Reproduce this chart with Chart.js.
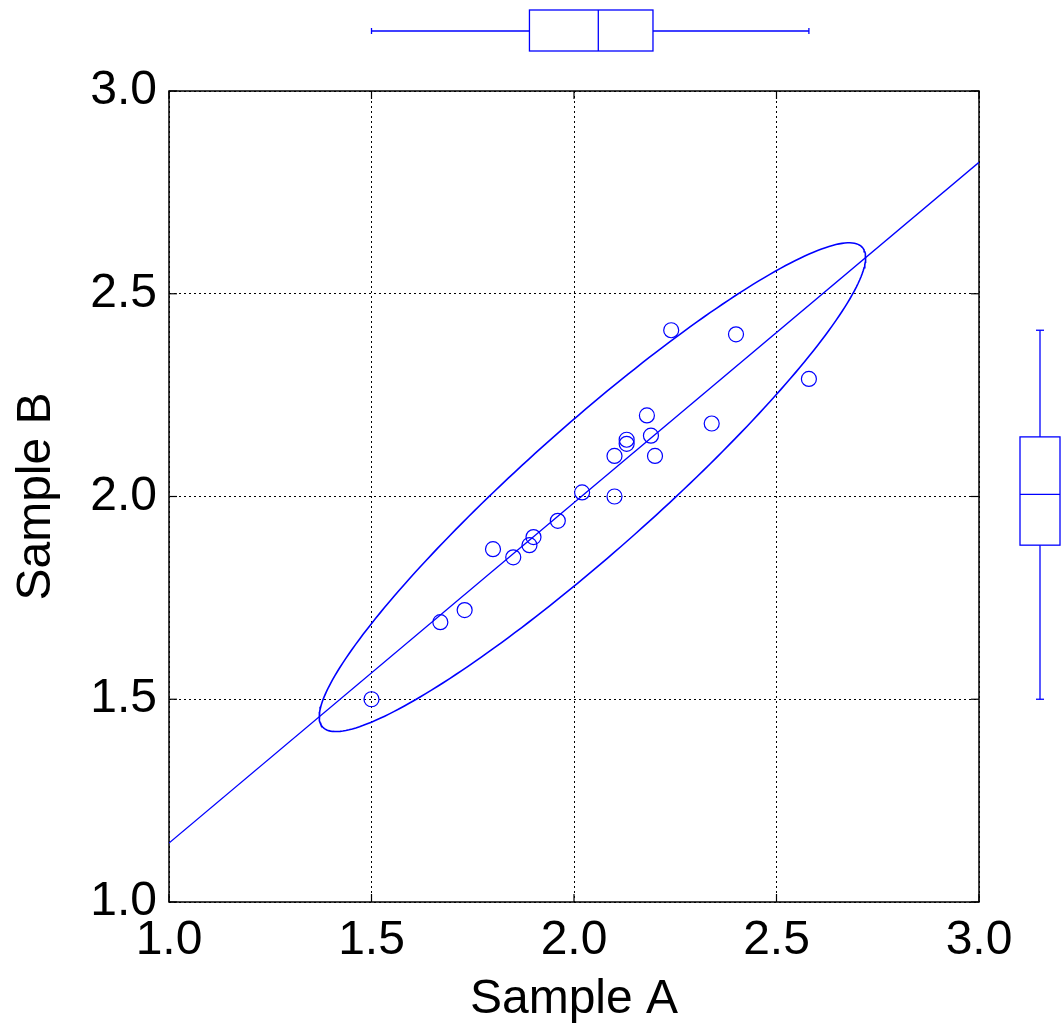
<!DOCTYPE html>
<html>
<head>
<meta charset="utf-8">
<script src="https://cdn.jsdelivr.net/npm/chart.js@4"></script>
<style>
  html, body { margin: 0; padding: 0; background: #fff; }
  #wrap { width: 1061px; height: 1029px; }
</style>
</head>
<body>
<div id="wrap"><canvas id="myChart" width="1061" height="1029"></canvas></div>
<script>
var sampleA = [2.24, 2.40, 2.58, 2.18, 2.34, 2.13, 2.13, 2.19, 2.10, 2.20,
               2.02, 2.10, 1.96, 1.90, 1.89, 1.80, 1.85, 1.73, 1.67, 1.50];
var sampleB = [2.41, 2.40, 2.29, 2.20, 2.18, 2.14, 2.13, 2.15, 2.10, 2.10,
               2.01, 2.00, 1.94, 1.90, 1.88, 1.87, 1.85, 1.72, 1.69, 1.50];

var tickValues = [1.0, 1.5, 2.0, 2.5, 3.0];

// box plot summaries: [min, q1, median, q3, max]
var boxA = [1.50, 1.89, 2.06, 2.195, 2.58];
var boxB = [1.50, 1.88, 2.005, 2.147, 2.41];

// size of the ellipse in standard deviations
var ellipseK = 2.57;

var blue = '#0000ff';
var fontName = '"Liberation Sans", Arial, Helvetica, sans-serif';

// stats
var n = sampleA.length;
var mx = 0, my = 0;
for (var i = 0; i < n; i++) { mx += sampleA[i]; my += sampleB[i]; }
mx /= n; my /= n;
var vx = 0, vy = 0, cxy = 0;
for (var i = 0; i < n; i++) {
    vx += (sampleA[i] - mx) * (sampleA[i] - mx);
    vy += (sampleB[i] - my) * (sampleB[i] - my);
    cxy += (sampleA[i] - mx) * (sampleB[i] - my);
}
vx /= (n - 1); vy /= (n - 1); cxy /= (n - 1);
var slope = cxy / vx;
var intercept = my - slope * mx;

var points = sampleA.map(function(a, i) { return {x: a, y: sampleB[i]}; });
var fitLine = [1.0, 3.0].map(function(a) { return {x: a, y: intercept + slope * a}; });

// ellipse from covariance (cholesky factor)
var l11 = Math.sqrt(vx), l21 = cxy / l11, l22 = Math.sqrt(vy - l21 * l21);
var ellipse = [];
for (var k = 0; k <= 240; k++) {
    var t = 2 * Math.PI * k / 240;
    var u = Math.cos(t), w = Math.sin(t);
    ellipse.push({x: mx + ellipseK * l11 * u, y: my + ellipseK * (l21 * u + l22 * w)});
}

function seg(ctx, x1, y1, x2, y2) {
    ctx.beginPath(); ctx.moveTo(x1, y1); ctx.lineTo(x2, y2); ctx.stroke();
}

var framePlugin = {
    id: 'frame',
    beforeDatasetsDraw: function(chart) {
        var ctx = chart.ctx, a = chart.chartArea;
        var xs = chart.scales.x, ys = chart.scales.y;
        ctx.save();
        ctx.strokeStyle = '#000';
        ctx.lineWidth = 1.5;
        ctx.strokeRect(a.left, a.top, a.right - a.left, a.bottom - a.top);
        ctx.lineWidth = 1.2;
        tickValues.forEach(function(v) {
            var px = xs.getPixelForValue(v), py = ys.getPixelForValue(v);
            seg(ctx, px, a.bottom, px, a.bottom - 8);
            seg(ctx, px, a.top, px, a.top + 8);
            seg(ctx, a.left, py, a.left + 8, py);
            seg(ctx, a.right, py, a.right - 8, py);
        });
        ctx.restore();
    }
};

var boxPlugin = {
    id: 'boxes',
    afterDraw: function(chart) {
        var ctx = chart.ctx;
        var xs = chart.scales.x, ys = chart.scales.y;
        ctx.save();
        ctx.strokeStyle = blue;
        ctx.lineWidth = 1.3;
        // top box (sample A)
        var p = boxA.map(function(v) { return xs.getPixelForValue(v); });
        var top = 10, bot = 51, mid = 31;
        seg(ctx, p[0], mid, p[1], mid);
        seg(ctx, p[3], mid, p[4], mid);
        seg(ctx, p[0], mid - 3, p[0], mid + 3);
        seg(ctx, p[4], mid - 3, p[4], mid + 3);
        ctx.strokeRect(p[1], top, p[3] - p[1], bot - top);
        seg(ctx, p[2], top, p[2], bot);
        // right box (sample B)
        var q = boxB.map(function(v) { return ys.getPixelForValue(v); });
        var left = 1020, right = 1060, cx = 1040;
        seg(ctx, cx, q[0], cx, q[1]);
        seg(ctx, cx, q[3], cx, q[4]);
        seg(ctx, cx - 4, q[0], cx + 4, q[0]);
        seg(ctx, cx - 4, q[4], cx + 4, q[4]);
        ctx.strokeRect(left, q[3], right - left, q[1] - q[3]);
        seg(ctx, left, q[2], right, q[2]);
        ctx.restore();
    }
};

var tickFont = {family: fontName, size: 48};
var titleFont = {family: fontName, size: 48, lineHeight: 1.2};

var ctx = document.getElementById('myChart').getContext('2d');
var myChart = new Chart(ctx, {
    type: 'scatter',
    data: {
        datasets: [{
            label: 'Samples',
            data: points,
            order: 0,
            pointStyle: 'circle',
            pointRadius: 7.5,
            pointHoverRadius: 7.5,
            pointBorderWidth: 1.2,
            borderColor: blue,
            backgroundColor: 'rgba(0,0,0,0)'
        }, {
            label: 'Fit',
            type: 'line',
            data: fitLine,
            order: 1,
            showLine: true,
            pointRadius: 0,
            borderColor: blue,
            borderWidth: 1.3,
            fill: false
        }, {
            label: 'Ellipse',
            type: 'line',
            data: ellipse,
            order: 2,
            showLine: true,
            pointRadius: 0,
            tension: 0,
            borderColor: blue,
            borderWidth: 1.6,
            fill: false
        }]
    },
    options: {
        responsive: false,
        animation: false,
        events: [],
        layout: {
            padding: {top: 91, right: 82, left: 0, bottom: 0}
        },
        plugins: {
            legend: {display: false},
            tooltip: {enabled: false}
        },
        scales: {
            x: {
                type: 'linear',
                min: 1, max: 3,
                afterFit: function(s) { s.height = 127; },
                ticks: {
                    stepSize: 0.5,
                    color: '#000',
                    font: tickFont,
                    padding: 10,
                    maxRotation: 0,
                    callback: function(v) { return v.toFixed(1); }
                },
                grid: {color: '#000', lineWidth: 1, drawTicks: false},
                border: {display: false, dash: [2, 3]},
                title: {
                    display: true,
                    text: 'Sample A',
                    color: '#000',
                    font: titleFont,
                    padding: {top: 0, bottom: 0}
                }
            },
            y: {
                type: 'linear',
                min: 1, max: 3,
                afterFit: function(s) { s.width = 169; },
                ticks: {
                    stepSize: 0.5,
                    color: '#000',
                    font: tickFont,
                    padding: 12,
                    callback: function(v) { return v.toFixed(1); }
                },
                grid: {color: '#000', lineWidth: 1, drawTicks: false},
                border: {display: false, dash: [2, 3]},
                title: {
                    display: true,
                    text: 'Sample B',
                    color: '#000',
                    font: titleFont,
                    padding: {top: 8, bottom: 0}
                }
            }
        }
    },
    plugins: [framePlugin, boxPlugin]
});
</script>
</body>
</html>
